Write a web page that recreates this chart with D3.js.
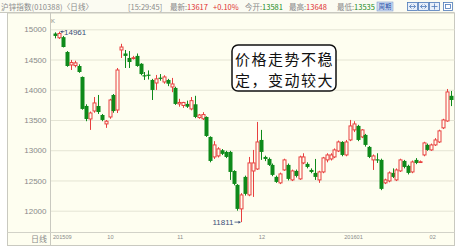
<!DOCTYPE html>
<html><head><meta charset="utf-8">
<script src="https://cdn.jsdelivr.net/npm/d3@7"></script>
<style>body{margin:0;background:#fff;}svg{display:block}</style>
</head><body><svg id="c" width="460" height="251"></svg>
<script>
// 沪锌指数 daily bars, Sep 2015 – Feb 2016
const opens = [14930,14860,14870,14625,14410,14400,14393,14212,13732,13517,
  13649,13732,13583,13435,13550,13914,13665,14658,14600,14526,
  14520,14560,14430,14240,14250,14162,14112,14200,14129,14162,
  14046,14030,13766,13740,13766,13683,13760,13540,13520,13550,
  13220,12889,12906,13000,12972,12972,12657,12427,12030,12559,
  12261,12657,12690,13170,12889,12856,12757,12559,12460,12674,
  12757,12509,12658,12526,12790,12774,12674,12625,12509,12641,
  12840,12856,12889,12988,13137,12922,13170,13336,13402,13220,
  13253,13055,12840,12850,12840,12460,12492,12625,12509,12658,
  12823,12741,12641,12840,12800,12922,13088,13005,13088,13137,
  13370,13484,13900];
const closes = [14890,14930,14707,14393,14450,14445,14294,13683,13517,13616,
  13782,13632,13501,13480,13831,13649,14327,14707,14560,14459,
  14530,14393,14260,14220,14240,13997,14180,14180,14212,14100,
  14096,13766,13790,13790,13720,13820,13550,13583,13590,13236,
  12823,13088,13022,12940,12889,12641,12443,12030,12261,12278,
  12790,12790,13137,12972,12856,12757,12592,12476,12608,12840,
  12526,12658,12575,12889,12889,12724,12641,12559,12641,12873,
  12922,12922,13005,13137,12922,13137,13402,13435,13170,13336,
  13088,12889,12906,12830,12361,12509,12625,12559,12674,12840,
  12724,12625,12806,12790,12810,13121,13005,13088,13170,13320,
  13501,13964,13831];
const highs = [14950,14961,14890,14640,14493,14480,14420,14220,13760,13640,
  13880,13914,13600,13500,13850,13930,14360,14760,14658,14640,
  14560,14600,14440,14294,14320,14180,14245,14260,14240,14180,
  14196,14050,13850,13800,13820,13880,13900,13600,13630,13560,
  13230,13150,13050,13020,12990,12990,12670,12440,12290,12580,
  12889,13005,13468,13336,12910,12880,12780,12580,12630,12860,
  12780,12680,12680,12910,12950,12800,12700,12856,12660,12890,
  12950,12950,13030,13160,13150,13170,13501,13480,13420,13350,
  13270,13070,12930,12950,12860,12530,12650,12700,12700,12860,
  12840,12760,12830,12870,12830,13140,13110,13110,13200,13340,
  13520,14013,13980];
const lows = [14850,14840,14700,14380,14327,14370,14280,13670,13480,13336,
  13620,13600,13480,13370,13520,13620,13616,14526,14360,14360,
  14500,14380,14240,14162,14170,13831,13997,14150,14100,14060,
  13960,13750,13720,13700,13700,13660,13530,13520,13500,13220,
  12800,12856,12880,12920,12870,12509,12420,12000,11811,12250,
  12240,12228,12674,12840,12820,12740,12570,12460,12440,12660,
  12500,12490,12550,12510,12770,12700,12620,12509,12460,12620,
  12800,12830,12870,12970,12900,12900,13150,13300,13150,13200,
  13060,12870,12674,12790,12340,12440,12470,12540,12490,12640,
  12700,12600,12620,12770,12790,12900,12990,12990,13070,13120,
  13350,13470,13730];

const yTicks = [12000, 12500, 13000, 13500, 14000, 14500, 15000];
const monthLabels = ["201509", "10", "11", "12", "201601", "02"];
const monthStarts = [0, 14, 32, 53, 75, 97];

const noteLines = ["价格走势不稳", "定，变动较大"];

// quote strip: [label, value, value colour]
const quoteTitle = "沪锌指数(010388)〈日线〉";
const quoteTime = "[15:29:45]";
const quoteItems = [
  ["最新:", "13617", "#e03030"],
  ["", "+0.10%", "#e03030"],
  ["今开:", "13581", "#1a8a1a"],
  ["最高:", "13648", "#e03030"],
  ["最低:", "13535", "#1a8a1a"]
];

const W = 460, H = 251;
const plotL = 50.5, plotR = 454.5, plotT = 13, axisY = 232.5, frameB = 245.5;
const RED = "#e8403f", GREEN = "#0e8a1a", BG = "#fefef0";

const svg = d3.select("#c");
svg.append("rect").attr("width", W).attr("height", H).attr("fill", "#fff");

// chart panel
svg.append("rect").attr("x", 7.5).attr("y", plotT).attr("width", plotR - 7.5).attr("height", frameB - plotT)
  .attr("fill", BG).attr("stroke", "#c9c9c0");
// header strip
svg.append("rect").attr("x", 0).attr("y", 0).attr("width", plotR).attr("height", 12.5)
  .attr("fill", "#fbfbf2");
svg.append("line").attr("x1", 0).attr("x2", plotR).attr("y1", 12.5).attr("y2", 12.5)
  .attr("stroke", "#c9c9c0");

const idx = d3.range(opens.length);
const x = d3.scaleBand().domain(idx).range([53, 453]).padding(0.2);
const cx = i => Math.round(x(i) + x.bandwidth() / 2) + 0.5;
const y = d3.scaleLinear().domain([12000, 15000]).range([210.7, 29.3]);

// horizontal grid
svg.append("g")
  .attr("transform", `translate(${plotL},0)`)
  .call(d3.axisLeft(y).tickValues(yTicks).tickSize(-(plotR - plotL)).tickFormat(""))
  .call(g => g.select(".domain").remove())
  .call(g => g.selectAll(".tick line").attr("stroke", "#e4e4d4"));

// y-axis labels
svg.append("g")
  .attr("transform", `translate(${plotL},0)`)
  .call(d3.axisLeft(y).tickValues(yTicks).tickSize(0).tickPadding(4).tickFormat(d3.format("d")))
  .call(g => g.select(".domain").remove())
  .call(g => g.selectAll("text").attr("fill", "#8a8a8a")
    .attr("font-family", "'Liberation Sans', Arial, sans-serif").attr("font-size", 8));

// axis frame lines
svg.append("line").attr("x1", plotL).attr("x2", plotL).attr("y1", plotT).attr("y2", frameB)
  .attr("stroke", "#c9c9c0");
svg.append("line").attr("x1", 7.5).attr("x2", plotR).attr("y1", axisY).attr("y2", axisY)
  .attr("stroke", "#d2d2c8");

// x-axis month labels
const xPos = d3.scaleLinear().domain([0, opens.length - 1]).range([cx(0), cx(opens.length - 1)]);
svg.append("g")
  .attr("transform", `translate(0,${axisY})`)
  .call(d3.axisBottom(xPos).tickValues(monthStarts).tickSize(0).tickPadding(3)
    .tickFormat((d, i) => monthLabels[i]))
  .call(g => g.select(".domain").remove())
  .call(g => g.selectAll("text").attr("text-anchor", "start").attr("dx", -3)
    .attr("fill", "#8a8a8a").attr("font-family", "'Liberation Sans', Arial, sans-serif")
    .attr("font-size", 5.6));

svg.append("text").attr("x", 47).attr("y", 241.5).attr("text-anchor", "end")
  .attr("font-family", "'Noto Sans CJK SC', sans-serif").attr("font-size", 8)
  .attr("fill", "#8a8a8a").text("日线");

svg.append("text").attr("x", 51).attr("y", 22.5)
  .attr("font-family", "'Liberation Sans', Arial, sans-serif").attr("font-size", 6)
  .attr("fill", "#8a8a8a").text("K");

// candles
const bars = svg.append("g");
idx.forEach(i => {
  const up = closes[i] >= opens[i];
  const col = up ? RED : GREEN;
  const c = cx(i);
  const yTop = y(Math.max(opens[i], closes[i]));
  const yBot = y(Math.min(opens[i], closes[i]));
  bars.append("line").attr("x1", c).attr("x2", c)
    .attr("y1", y(highs[i])).attr("y2", y(lows[i])).attr("stroke", col).attr("stroke-width", 1);
  if (up) {
    bars.append("rect").attr("x", c - 1.5).attr("y", yTop)
      .attr("width", 3).attr("height", Math.max(0.8, yBot - yTop))
      .attr("fill", BG).attr("stroke", col).attr("stroke-width", 1);
  } else {
    bars.append("rect").attr("x", c - 2).attr("y", yTop)
      .attr("width", 4).attr("height", Math.max(1.2, yBot - yTop))
      .attr("fill", col);
  }
});

// extreme-value markers
const hiI = d3.maxIndex(highs), loI = d3.minIndex(lows);
const markCol = "#3b4f78";
const hx = cx(hiI) + 1, hy = y(highs[hiI]);
svg.append("line").attr("x1", hx).attr("x2", hx + 4).attr("y1", hy).attr("y2", hy)
  .attr("stroke", markCol).attr("stroke-width", 0.8);
svg.append("path").attr("d", `M${hx},${hy} l2,-1.5 v3 z`).attr("fill", markCol);
svg.append("text").attr("x", hx + 3.5).attr("y", hy + 3)
  .attr("font-family", "'Liberation Sans', Arial, sans-serif").attr("font-size", 8)
  .attr("fill", markCol).text(highs[hiI]);

const lx = cx(loI) - 1, ly = y(lows[loI]);
svg.append("line").attr("x1", lx - 6).attr("x2", lx).attr("y1", ly).attr("y2", ly)
  .attr("stroke", markCol).attr("stroke-width", 0.8);
svg.append("path").attr("d", `M${lx},${ly} l-2,-1.5 v3 z`).attr("fill", markCol);
svg.append("text").attr("x", lx - 7).attr("y", ly + 3).attr("text-anchor", "end")
  .attr("font-family", "'Liberation Sans', Arial, sans-serif").attr("font-size", 8)
  .attr("fill", markCol).text(lows[loI]);

// annotation box
svg.append("rect").attr("x", 232).attr("y", 45).attr("width", 104).attr("height", 46)
  .attr("rx", 6).attr("fill", "#fff").attr("stroke", "#111").attr("stroke-width", 1.5);
svg.append("g").selectAll("text").data(noteLines).join("text")
  .attr("x", 235).attr("y", (d, i) => 65 + i * 20.5)
  .attr("font-family", "'Noto Sans CJK SC', sans-serif").attr("font-size", 15)
  .attr("letter-spacing", 1.5)
  .attr("fill", "#111").text(d => d);

// header
const hf = "'Noto Sans CJK SC', sans-serif";
const headG = svg.append("g").attr("font-family", hf).attr("font-size", 7.5);
headG.append("text").attr("x", 1).attr("y", 9.5).attr("fill", "#8a8a8a")
  .attr("textLength", 92).attr("lengthAdjust", "spacing").text(quoteTitle);
headG.append("text").attr("x", 128).attr("y", 9.5).attr("fill", "#8a8a8a").text(quoteTime);
const itemX = [170, 213, 245, 289, 337];
quoteItems.forEach((d, i) => {
  const t = headG.append("text").attr("x", itemX[i]).attr("y", 9.5);
  if (d[0]) t.append("tspan").attr("fill", "#8a8a8a").text(d[0]);
  t.append("tspan").attr("fill", d[2]).text(d[1]);
});

svg.append("rect").attr("x", 377).attr("y", 2).attr("width", 16).attr("height", 9)
  .attr("fill", "#cfdcf2").attr("stroke", "#6f8fc7").attr("stroke-width", 0.5);
svg.append("text").attr("x", 385).attr("y", 9).attr("text-anchor", "middle")
  .attr("font-family", hf).attr("font-size", 6.5).attr("fill", "#1f4fa8").text("周期");

// window buttons
const btn = svg.append("g").attr("stroke", "#4d79b8").attr("fill", "#e8eff9").attr("stroke-width", 0.8);
[407, 418, 429].forEach(bx => btn.append("rect").attr("x", bx + 0.5).attr("y", 2.5).attr("width", 10).attr("height", 8));
btn.append("rect").attr("x", 443.5).attr("y", 2.5).attr("width", 9).attr("height", 8).attr("fill", "#fff");
btn.append("rect").attr("x", 445.5).attr("y", 4.5).attr("width", 5).attr("height", 4).attr("fill", "none");
const arrows = svg.append("g").attr("stroke", "#4d79b8").attr("stroke-width", 0.8).attr("fill", "none");
[407, 418].forEach(bx => {
  arrows.append("path").attr("d", `M${bx + 2.5},6.5 h6 M${bx + 2.5},6.5 l2,-2 M${bx + 2.5},6.5 l2,2 M${bx + 8.5},6.5 l-2,-2 M${bx + 8.5},6.5 l-2,2`);
});
arrows.append("path").attr("d", "M431.5,6.5 h6 M434.5,3.5 v6");
</script></body></html>
